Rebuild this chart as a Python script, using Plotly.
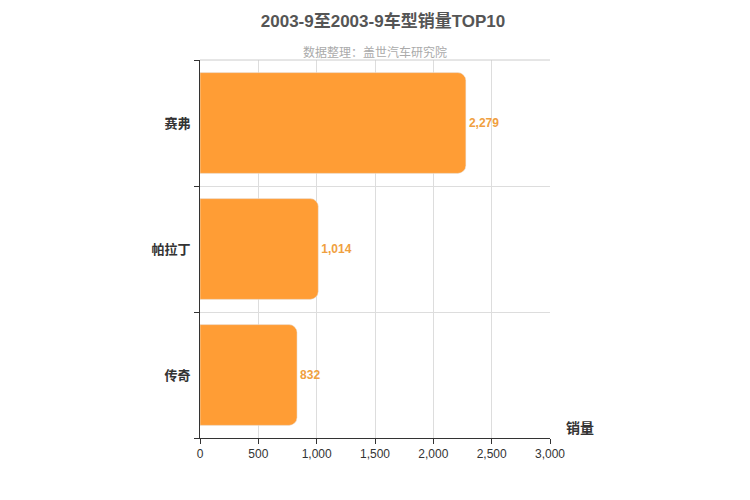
import plotly.graph_objects as go

models = ["赛弗", "帕拉丁", "传奇"]
sales = [2279, 1014, 832]

fig = go.Figure(go.Bar(
    x=sales, y=models, orientation="h",
    marker=dict(color="#ff9d35", cornerradius=8),
    width=0.8,
    text=[f"{v:,}" for v in sales], textposition="outside",
    textfont=dict(color="#f0a040", size=12, family="Arial", weight="bold"),
    cliponaxis=False, hoverinfo="skip",
))
fig.update_layout(
    width=750, height=500, plot_bgcolor="white", paper_bgcolor="white",
    margin=dict(l=192, r=208, t=52, b=70),
    font=dict(family="Arial, Noto Sans CJK SC", color="#333"),
    title=dict(text="<b>2003-9至2003-9车型销量TOP10</b>", x=0.5, y=0.985, xanchor="center",
               yanchor="top", font=dict(size=17, color="#555")),
    annotations=[
        dict(text="数据整理：盖世汽车研究院", x=0.5, y=1.045, xref="paper", yref="paper",
             showarrow=False, font=dict(size=12, color="#aaa")),
        dict(text="<b>销量</b>", x=1.04, y=0, xref="paper", yref="paper", xanchor="left",
             yanchor="bottom", showarrow=False, font=dict(size=14, color="#333")),
    ],
    shapes=[dict(type="line", xref="paper", yref="paper", x0=0, x1=1, y0=1, y1=1,
                 line=dict(color="#ccc", width=1))],
    showlegend=False,
)
fig.update_xaxes(range=[0, 3000], dtick=500, tickformat=",", showgrid=True, gridcolor="#ddd",
                 showline=True, linecolor="#333", ticks="outside", ticklen=5, tickcolor="#333",
                 zeroline=False, tickfont=dict(size=12, color="#333"))
fig.update_yaxes(categoryorder="array", categoryarray=models[::-1], tickson="boundaries",
                 showgrid=True, gridcolor="#ddd", showline=True, linecolor="#333",
                 ticks="outside", ticklen=5, tickcolor="#333", ticklabelstandoff=6,
                 tickfont=dict(size=13, color="#333", weight="bold"))
fig.write_html("out.html")
